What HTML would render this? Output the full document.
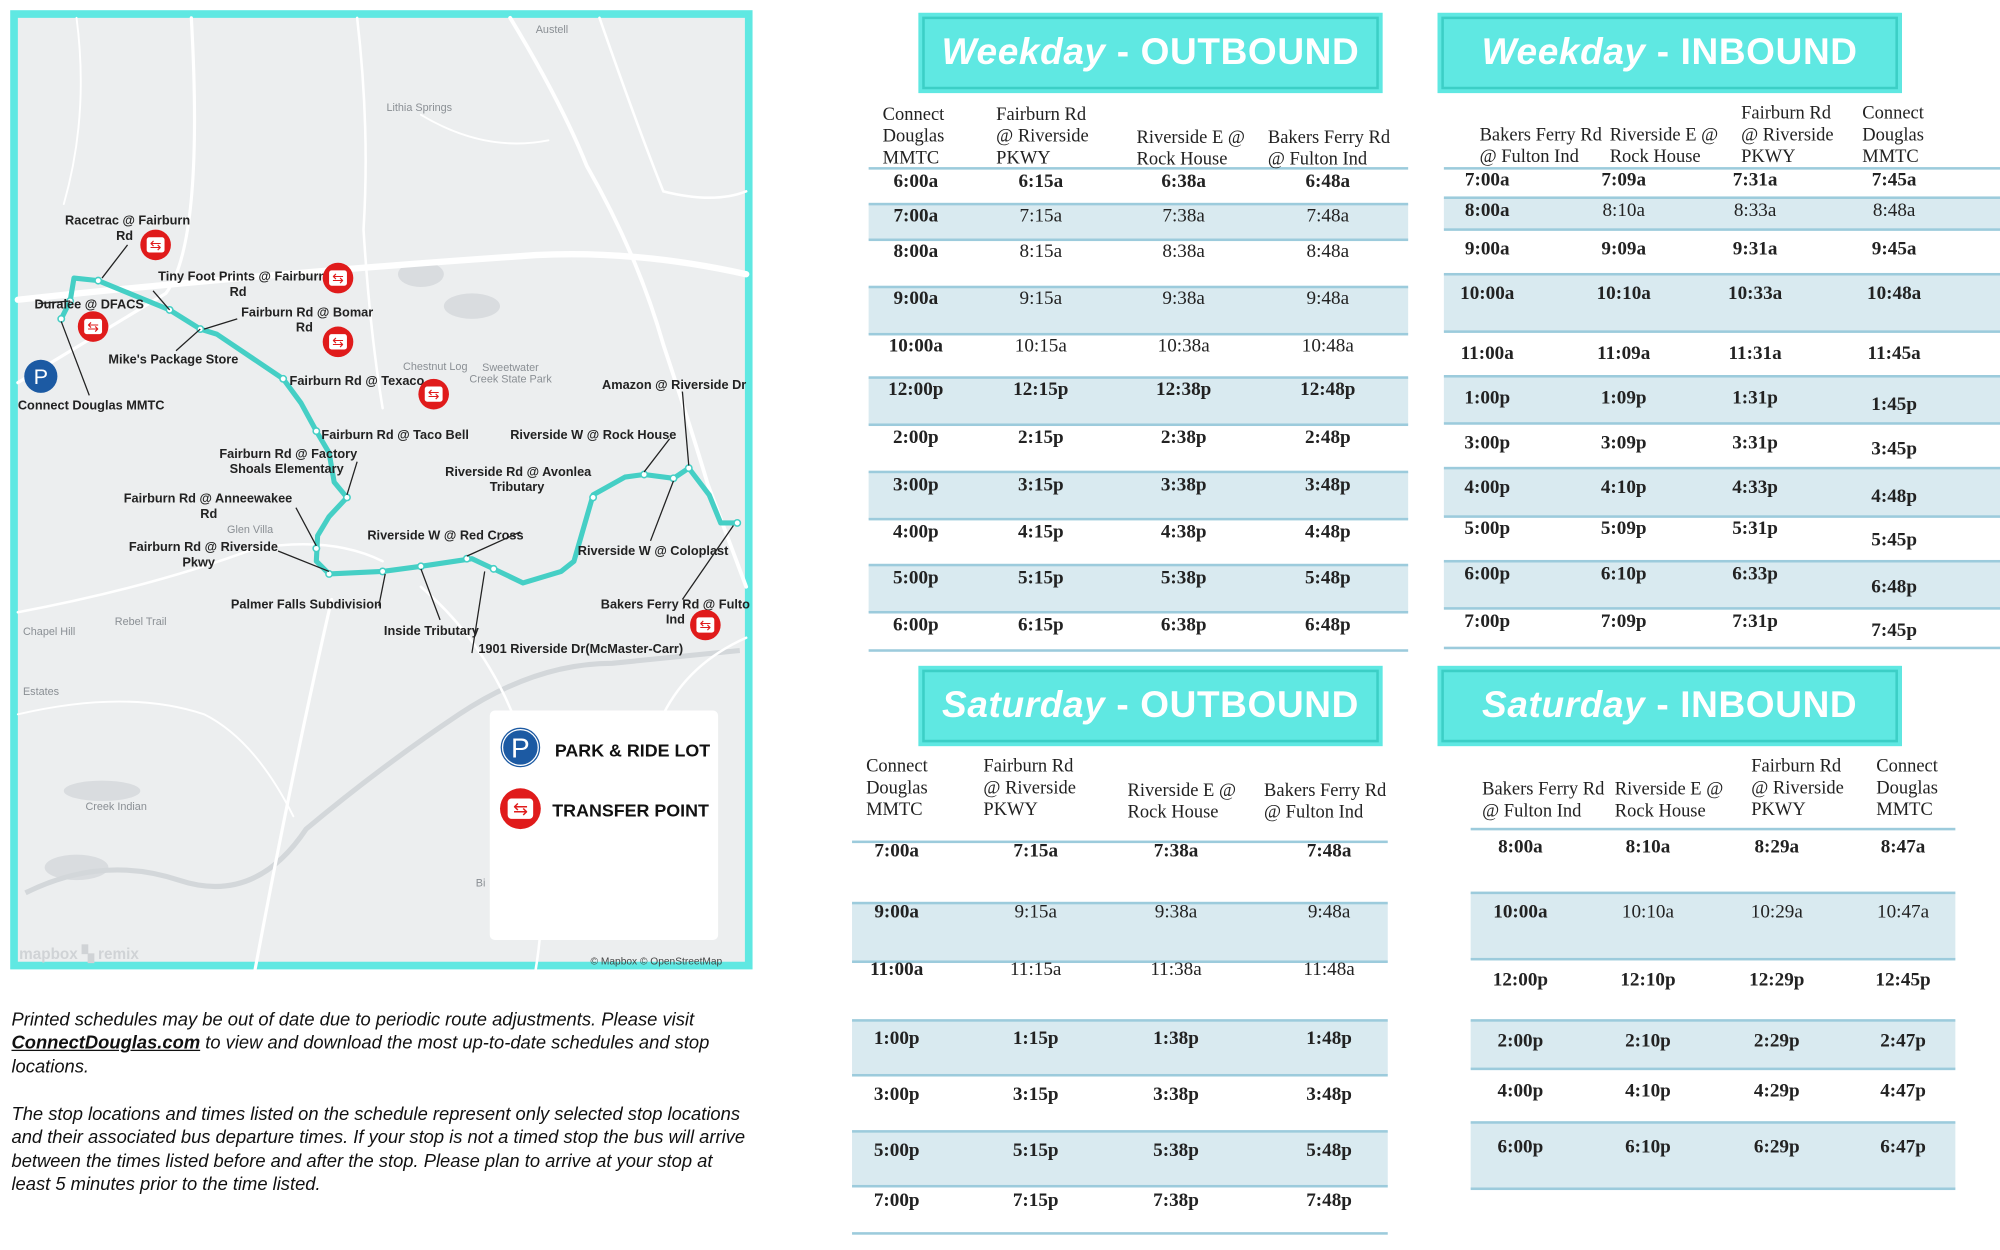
<!DOCTYPE html>
<html><head><meta charset="utf-8">
<style>
html,body{margin:0;padding:0;background:#fff;width:2000px;height:1250px;overflow:hidden}
#page{position:absolute;left:0;top:0;width:1568px;height:980px;transform:scale(1.27551);transform-origin:0 0;font-family:"Liberation Sans",sans-serif}
.title{position:absolute;background:#5fe8e2;box-shadow:inset 0 0 0 3px #5fe8e2,inset 0 0 0 5px #3ccfc6;color:#fff;font-weight:bold;font-size:29px;text-align:center;line-height:63px;height:63px;width:364px;letter-spacing:0.5px}
.title i{font-style:italic}
.hdr{position:absolute;font-family:"Liberation Serif",serif;font-size:14.5px;line-height:17px;color:#222;white-space:nowrap}
.cell{position:absolute;font-family:"Liberation Serif",serif;font-size:15px;color:#222;transform:translate(-50%,-50%);white-space:nowrap}
.b{font-weight:bold}
.band{position:absolute;background:#d9eaf0}
.rule{position:absolute;height:2px;background:#9ccbdc}
.note{position:absolute;left:9px;font-style:italic;font-size:14.4px;line-height:18.4px;color:#111;white-space:nowrap}
</style></head>
<body>
<div id="page">

<svg style="position:absolute;left:0;top:0" width="600" height="770" viewBox="0 0 600 770" font-family="Liberation Sans, sans-serif">
  <rect x="11" y="11" width="576" height="746" fill="#eceeef" stroke="#5fe8e2" stroke-width="6"/>
  <g fill="#d9dcdf">
    <ellipse cx="330" cy="215" rx="18" ry="10"/><ellipse cx="370" cy="240" rx="22" ry="10"/>
    <ellipse cx="80" cy="620" rx="30" ry="8"/><ellipse cx="60" cy="680" rx="25" ry="10"/>
    <path d="M20 700 Q80 670 140 690 Q200 710 240 650 Q300 600 360 560 Q420 520 480 520 L580 510" fill="none" stroke="#d3d7da" stroke-width="4"/>
  </g>
  <g fill="none" stroke="#fff" stroke-linecap="round">
    <path d="M14 235 Q200 215 420 200 Q500 196 585 215" stroke-width="5"/>
    <path d="M400 14 Q440 80 460 130 Q500 200 520 270 Q540 330 555 380 L585 460" stroke-width="3"/>
    <path d="M14 300 Q80 260 130 230 Q160 190 150 14" stroke-width="2.5"/>
    <path d="M280 14 Q290 100 285 180 Q290 260 300 320" stroke-width="2"/>
    <path d="M14 480 Q120 460 200 430 Q260 420 300 440" stroke-width="2"/>
    <path d="M200 760 Q230 600 260 470" stroke-width="2.5"/>
    <path d="M330 460 Q400 520 420 620 Q430 700 420 760" stroke-width="2"/>
    <path d="M470 14 Q500 100 520 150 Q560 160 585 150" stroke-width="2"/>
    <path d="M14 560 Q100 540 160 560 Q200 580 230 640" stroke-width="1.5"/>
    <path d="M520 560 Q540 520 585 500" stroke-width="2"/>
    <path d="M60 14 Q70 90 50 160" stroke-width="1.5"/>
    <path d="M330 90 Q380 120 430 110" stroke-width="1.5"/>
  </g>
  <path fill="none" stroke="#45cfc5" stroke-width="4" stroke-linejoin="round" d="M48 250 L55 236 L58 218 L77 220 L133 243 L157 258 L170 262 L222 297 L236 316 L248 338 L258 355 L262 378 L272 390 L258 405 L249 420 L248 440 L258 450 L300 448 L330 444 L370 438 L387 446 L410 457 L440 448 L450 440 L465 388 L490 374 L505 372 L528 375 L540 367 L556 388 L565 410 L578 410"/>
  <g fill="#fff" stroke="#45cfc5" stroke-width="1.2">
    <circle cx="48" cy="250" r="2.5"/><circle cx="55" cy="236" r="2.5"/><circle cx="77" cy="220" r="2.5"/><circle cx="133" cy="243" r="2.5"/><circle cx="157" cy="258" r="2.5"/><circle cx="222" cy="297" r="2.5"/><circle cx="248" cy="338" r="2.5"/><circle cx="272" cy="390" r="2.5"/><circle cx="248" cy="430" r="2.5"/><circle cx="258" cy="450" r="2.5"/><circle cx="300" cy="448" r="2.5"/><circle cx="330" cy="444" r="2.5"/><circle cx="366" cy="438" r="2.5"/><circle cx="387" cy="446" r="2.5"/><circle cx="465" cy="390" r="2.5"/><circle cx="505" cy="372" r="2.5"/><circle cx="528" cy="375" r="2.5"/><circle cx="540" cy="367" r="2.5"/><circle cx="578" cy="410" r="2.5"/>
  </g>
  <g stroke="#222" stroke-width="1">
    <line x1="100" y1="192" x2="80" y2="218"/><line x1="120" y1="228" x2="133" y2="243"/><line x1="30" y1="238" x2="55" y2="236"/><line x1="186" y1="250" x2="160" y2="258"/><line x1="138" y1="275" x2="157" y2="258"/><line x1="70" y1="310" x2="48" y2="252"/><line x1="280" y1="362" x2="272" y2="388"/><line x1="232" y1="398" x2="248" y2="428"/><line x1="218" y1="432" x2="258" y2="448"/><line x1="297" y1="475" x2="302" y2="450"/><line x1="345" y1="486" x2="330" y2="446"/><line x1="370" y1="512" x2="380" y2="448"/><line x1="408" y1="417" x2="366" y2="436"/><line x1="535" y1="307" x2="540" y2="365"/><line x1="525" y1="344" x2="505" y2="370"/><line x1="510" y1="424" x2="528" y2="377"/><line x1="535" y1="470" x2="575" y2="412"/>
  </g>
  <g font-size="10" fill="#222" font-weight="bold">
    <text x="51" y="176">Racetrac @ Fairburn</text><text x="91" y="188">Rd</text>
    <text x="124" y="220">Tiny Foot Prints @ Fairburn</text><text x="180" y="232">Rd</text>
    <text x="27" y="242">Duralee @ DFACS</text>
    <text x="189" y="248">Fairburn Rd @ Bomar</text><text x="232" y="260">Rd</text>
    <text x="85" y="285">Mike's Package Store</text>
    <text x="14" y="321">Connect Douglas MMTC</text>
    <text x="227" y="302">Fairburn Rd @ Texaco</text>
    <text x="472" y="305">Amazon @ Riverside Dr</text>
    <text x="252" y="344">Fairburn Rd @ Taco Bell</text>
    <text x="400" y="344">Riverside W @ Rock House</text>
    <text x="172" y="359">Fairburn Rd @ Factory</text><text x="180" y="371">Shoals Elementary</text>
    <text x="349" y="373">Riverside Rd @ Avonlea</text><text x="384" y="385">Tributary</text>
    <text x="97" y="394">Fairburn Rd @ Anneewakee</text><text x="157" y="406">Rd</text>
    <text x="288" y="423">Riverside W @ Red Cross</text>
    <text x="101" y="432">Fairburn Rd @ Riverside</text><text x="143" y="444">Pkwy</text>
    <text x="453" y="435">Riverside W @ Coloplast</text>
    <text x="181" y="477">Palmer Falls Subdivision</text>
    <text x="471" y="477">Bakers Ferry Rd @ Fulto</text><text x="522" y="489">Ind</text>
    <text x="301" y="498">Inside Tributary</text>
    <text x="375" y="512">1901 Riverside Dr(McMaster-Carr)</text>
  </g>
  <g font-size="8.5" fill="#8a8f94">
    <text x="420" y="26">Austell</text><text x="303" y="87">Lithia Springs</text><text x="316" y="290">Chestnut Log</text>
    <text x="378" y="291">Sweetwater</text><text x="368" y="300">Creek State Park</text><text x="178" y="418">Glen Villa</text>
    <text x="18" y="498">Chapel Hill</text><text x="90" y="490">Rebel Trail</text><text x="18" y="545">Estates</text>
    <text x="67" y="635">Creek Indian</text><text x="373" y="695">Bi</text>
  </g>
  <g>
    <g transform="translate(122,192)"><circle r="12" fill="#e01b1b"/><rect x="-7" y="-6" width="14" height="12" rx="2" fill="#fff"/><text y="4" text-anchor="middle" font-size="11" fill="#e01b1b">⇆</text></g>
    <g transform="translate(265,218)"><circle r="12" fill="#e01b1b"/><rect x="-7" y="-6" width="14" height="12" rx="2" fill="#fff"/><text y="4" text-anchor="middle" font-size="11" fill="#e01b1b">⇆</text></g>
    <g transform="translate(73,256)"><circle r="12" fill="#e01b1b"/><rect x="-7" y="-6" width="14" height="12" rx="2" fill="#fff"/><text y="4" text-anchor="middle" font-size="11" fill="#e01b1b">⇆</text></g>
    <g transform="translate(265,268)"><circle r="12" fill="#e01b1b"/><rect x="-7" y="-6" width="14" height="12" rx="2" fill="#fff"/><text y="4" text-anchor="middle" font-size="11" fill="#e01b1b">⇆</text></g>
    <g transform="translate(340,309)"><circle r="12" fill="#e01b1b"/><rect x="-7" y="-6" width="14" height="12" rx="2" fill="#fff"/><text y="4" text-anchor="middle" font-size="11" fill="#e01b1b">⇆</text></g>
    <g transform="translate(553,490)"><circle r="12" fill="#e01b1b"/><rect x="-7" y="-6" width="14" height="12" rx="2" fill="#fff"/><text y="4" text-anchor="middle" font-size="11" fill="#e01b1b">⇆</text></g>
  </g>
  <g transform="translate(32,295)"><circle r="13" fill="#1c5aa3"/><text y="6" text-anchor="middle" font-size="17" fill="#fff">P</text></g>
  <g>
    <rect x="384" y="557" width="179" height="180" rx="4" fill="#fff"/>
    <g transform="translate(408,586)"><circle r="16" fill="#1c5aa3" stroke="#fff" stroke-width="1"/><circle r="14" fill="none" stroke="#fff" stroke-width="1"/><text y="8" text-anchor="middle" font-size="22" fill="#fff">P</text></g>
    <text x="435" y="593" font-size="14" font-weight="bold" fill="#111">PARK &amp; RIDE LOT</text>
    <g transform="translate(408,634)"><circle r="16" fill="#e01b1b"/><rect x="-10" y="-8" width="20" height="16" rx="3" fill="#fff"/><text y="5" text-anchor="middle" font-size="14" fill="#e01b1b">⇆</text></g>
    <text x="433" y="640" font-size="14" font-weight="bold" fill="#111">TRANSFER POINT</text>
  </g>
  <text x="15" y="752" font-size="12" font-weight="bold" fill="#d0d3d6">mapbox ▚ remix</text>
  <text x="463" y="756" font-size="8" fill="#444">© Mapbox © OpenStreetMap</text>
</svg>

<div class="note" style="top:791px">Printed schedules may be out of date due to periodic route adjustments. Please visit<br><b style="text-decoration:underline">ConnectDouglas.com</b> to view and download the most up-to-date schedules and stop<br>locations.</div>
<div class="note" style="top:865px">The stop locations and times listed on the schedule represent only selected stop locations<br>and their associated bus departure times. If your stop is not a timed stop the bus will arrive<br>between the times listed before and after the stop. Please plan to arrive at your stop at<br>least 5 minutes prior to the time listed.</div>

<div class="title" style="left:720px;top:10px"><i>Weekday</i> - OUTBOUND</div>
<div class="title" style="left:1127px;top:10px"><i>Weekday</i> - INBOUND</div>
<div class="title" style="left:720px;top:522px"><i>Saturday</i> - OUTBOUND</div>
<div class="title" style="left:1127px;top:522px"><i>Saturday</i> - INBOUND</div>

<div id="tables"></div>
</div>

<script>
// ---- data ----
const woHeaders = ["Connect<br>Douglas<br>MMTC","Fairburn Rd<br>@ Riverside<br>PKWY","Riverside E @<br>Rock House","Bakers Ferry Rd<br>@ Fulton Ind"];
const woTimes = [
 ["6:00a","6:15a","6:38a","6:48a"],["7:00a","7:15a","7:38a","7:48a"],["8:00a","8:15a","8:38a","8:48a"],
 ["9:00a","9:15a","9:38a","9:48a"],["10:00a","10:15a","10:38a","10:48a"],["12:00p","12:15p","12:38p","12:48p"],
 ["2:00p","2:15p","2:38p","2:48p"],["3:00p","3:15p","3:38p","3:48p"],["4:00p","4:15p","4:38p","4:48p"],
 ["5:00p","5:15p","5:38p","5:48p"],["6:00p","6:15p","6:38p","6:48p"]];
const woBold = [1,0,0,0,0,1,1,1,1,1,1];
const wiHeaders = ["Bakers Ferry Rd<br>@ Fulton Ind","Riverside E @<br>Rock House","Fairburn Rd<br>@ Riverside<br>PKWY","Connect<br>Douglas<br>MMTC"];
const wiTimes = [
 ["7:00a","7:09a","7:31a","7:45a"],["8:00a","8:10a","8:33a","8:48a"],["9:00a","9:09a","9:31a","9:45a"],
 ["10:00a","10:10a","10:33a","10:48a"],["11:00a","11:09a","11:31a","11:45a"],["1:00p","1:09p","1:31p","1:45p"],
 ["3:00p","3:09p","3:31p","3:45p"],["4:00p","4:10p","4:33p","4:48p"],["5:00p","5:09p","5:31p","5:45p"],
 ["6:00p","6:10p","6:33p","6:48p"],["7:00p","7:09p","7:31p","7:45p"]];
const wiBold = [1,0,1,1,1,1,1,1,1,1,1];
const soHeaders = woHeaders;
const soTimes = [
 ["7:00a","7:15a","7:38a","7:48a"],["9:00a","9:15a","9:38a","9:48a"],["11:00a","11:15a","11:38a","11:48a"],
 ["1:00p","1:15p","1:38p","1:48p"],["3:00p","3:15p","3:38p","3:48p"],["5:00p","5:15p","5:38p","5:48p"],
 ["7:00p","7:15p","7:38p","7:48p"]];
const soBold = [1,0,0,1,1,1,1];
const siHeaders = wiHeaders;
const siTimes = [
 ["8:00a","8:10a","8:29a","8:47a"],["10:00a","10:10a","10:29a","10:47a"],["12:00p","12:10p","12:29p","12:45p"],
 ["2:00p","2:10p","2:29p","2:47p"],["4:00p","4:10p","4:29p","4:47p"],["6:00p","6:10p","6:29p","6:47p"]];
const siBold = [1,0,1,1,1,1];

// ---- layout (not data) ----
const tables = [
 {name:"weekday-outbound",headers:woHeaders,times:woTimes,bold:woBold,x0:681,x1:1104,
  hdrX:[692,781,891,994],hdrY:[82,82,100,100],
  rowB:[132,160,188,225,262,296,333,370,407,443,480,510],
  textY:[143,170,198,235,272,306,344,381,418,454,491],colX:[718,816,928,1041],col4Dy:[0,0,0,0,0,0,0,0,0,0,0]},
 {name:"weekday-inbound",headers:wiHeaders,times:wiTimes,bold:wiBold,x0:1132,x1:1568,
  hdrX:[1160,1262,1365,1460],hdrY:[98,98,81,81],
  rowB:[132,155,180,215,260,295,332,367,405,440,477,508],
  textY:[142,166,196,231,278,313,348,383,415,451,488],colX:[1166,1273,1376,1485],col4Dy:[0,0,0,0,0,5,5,7,9,10,7]},
 {name:"saturday-outbound",headers:soHeaders,times:soTimes,bold:soBold,x0:668,x1:1088,
  hdrX:[679,771,884,991],hdrY:[593,593,612,612],
  rowB:[660,708,754,800,843,887,930,967],
  textY:[668,716,761,815,859,903,942],colX:[703,812,922,1042],col4Dy:[0,0,0,0,0,0,0]},
 {name:"saturday-inbound",headers:siHeaders,times:siTimes,bold:siBold,x0:1153,x1:1533,
  hdrX:[1162,1266,1373,1471],hdrY:[611,611,593,593],
  rowB:[650,700,752,800,838,880,932],
  textY:[665,716,769,817,856,900],colX:[1192,1292,1393,1492],col4Dy:[0,0,0,0,0,0]}
];

const host = document.getElementById('tables');
tables.forEach(t => {
  const wrap = document.createElement('div');
  
  
  host.appendChild(wrap);
  t.times.forEach((row, i) => {
    if (i % 2 === 1) {
      const b = document.createElement('div');
      b.className = 'band';
      b.style.left = t.x0 + 'px'; b.style.width = (t.x1 - t.x0) + 'px';
      b.style.top = t.rowB[i] + 'px'; b.style.height = (t.rowB[i+1] - t.rowB[i]) + 'px';
      
      
      wrap.appendChild(b);
    }
  });
  t.rowB.forEach(y => {
    const r = document.createElement('div');
    r.className = 'rule';
    r.style.left = t.x0 + 'px'; r.style.width = (t.x1 - t.x0) + 'px'; r.style.top = (y - 1) + 'px';
    
    
    wrap.appendChild(r);
  });
  t.headers.forEach((h, c) => {
    const d = document.createElement('div');
    d.className = 'hdr';
    d.innerHTML = h;
    d.style.left = t.hdrX[c] + 'px'; d.style.top = t.hdrY[c] + 'px';
    
    
    wrap.appendChild(d);
  });
  t.times.forEach((row, i) => {
    row.forEach((v, c) => {
      const d = document.createElement('div');
      d.className = 'cell' + ((c === 0 || t.bold[i]) ? ' b' : '');
      d.textContent = v;
      d.style.left = t.colX[c] + 'px';
      d.style.top = (t.textY[i] + (c === 3 ? t.col4Dy[i] : 0)) + 'px';
      
      
      wrap.appendChild(d);
    });
  });
});
</script>
</body></html>
